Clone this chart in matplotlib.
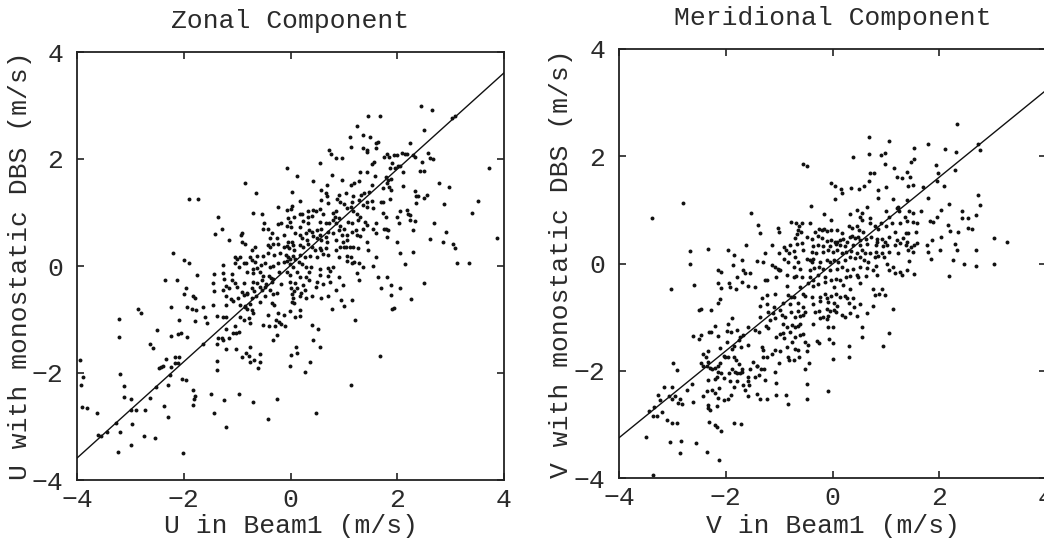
import numpy as np
import matplotlib
matplotlib.use('Agg')
import matplotlib.pyplot as plt

# ---- beam1 vs monostatic DBS winds (m/s), pairs of (beam1, dbs) ----
zonal_pts = [
    (0.13, 1.69), (0.43, 1.59), (0.77, 1.71), (0.96, 1.61), (1.13, 1.51), (1.19, 1.55), (1.29, 1.58), (1.43, 1.76),
    (1.58, 1.68), (1.30, 1.76), (1.52, 1.51), (0.69, 1.51), (-0.85, 1.55), (-0.65, 1.37), (0.03, 1.39), (0.58, 1.42),
    (0.66, 1.36), (0.68, 1.30), (0.90, 1.33), (0.88, 1.26), (1.04, 1.36), (1.18, 1.30), (1.33, 1.33), (1.38, 1.37),
    (1.48, 1.39), (0.58, 1.23), (0.71, 1.17), (0.18, 1.22), (0.93, 1.20), (1.00, 1.16), (1.15, 1.20), (1.29, 1.23),
    (1.44, 1.20), (1.52, 1.22), (-0.23, 1.11), (-0.07, 1.05), (0.02, 1.12), (0.00, 1.06), (-0.70, 1.00), (-0.54, 0.98),
    (0.18, 0.97), (0.22, 0.98), (0.33, 1.02), (0.43, 1.05), (0.48, 1.02), (0.55, 1.06), (0.61, 0.98), (0.32, 0.92),
    (0.40, 0.93), (0.80, 1.00), (0.86, 1.02), (0.83, 0.92), (0.90, 0.89), (1.05, 1.08), (1.13, 1.11), (1.18, 1.02),
    (1.24, 0.98), (1.36, 1.14), (1.43, 1.11), (1.54, 1.08), (1.30, 0.92), (-0.04, 0.89), (0.07, 0.92), (-0.49, 0.80),
    (-0.23, 0.79), (-0.17, 0.81), (-0.01, 0.83), (0.23, 0.85), (0.32, 0.80), (0.18, 0.72), (0.55, 0.83), (0.66, 0.80),
    (0.73, 0.81), (0.79, 0.86), (0.86, 0.80), (0.93, 0.75), (1.08, 0.83), (1.16, 0.80), (1.27, 0.86), (1.40, 0.83),
    (1.44, 0.77), (1.60, 0.80), (-1.29, 0.69), (-0.51, 0.69), (-0.42, 0.70), (-0.07, 0.74), (0.00, 0.72), (0.35, 0.67),
    (0.40, 0.64), (0.49, 0.67), (0.58, 0.70), (0.71, 0.64), (0.80, 0.61), (0.90, 0.67), (1.00, 0.69), (1.15, 0.64),
    (1.23, 0.67), (1.36, 0.70), (1.54, 0.69), (1.61, 0.62), (-0.93, 0.58), (-0.90, 0.61), (-0.35, 0.61), (-0.13, 0.58),
    (0.08, 0.61), (0.18, 0.58), (0.29, 0.62), (0.43, 0.56), (0.55, 0.58), (0.66, 0.55), (0.96, 0.58), (1.05, 0.58),
    (1.24, 0.58), (1.30, 0.56), (-1.16, 0.49), (-0.90, 0.44), (-0.85, 0.41), (-0.38, 0.52), (-0.26, 0.52), (-0.04, 0.45),
    (0.02, 0.45), (0.21, 0.52), (0.30, 0.49), (0.49, 0.52), (0.58, 0.49), (0.68, 0.45), (0.86, 0.49), (0.98, 0.45),
    (1.06, 0.49), (1.43, 0.45), (-0.66, 0.35), (-0.73, 0.29), (-0.42, 0.39), (-0.38, 0.36), (-0.32, 0.41), (-0.23, 0.42),
    (-0.13, 0.35), (-0.07, 0.37), (-0.02, 0.33), (0.04, 0.39), (0.07, 0.30), (0.18, 0.39), (0.24, 0.36), (0.32, 0.42),
    (0.40, 0.36), (0.46, 0.30), (0.55, 0.33), (0.58, 0.29), (0.66, 0.33), (0.86, 0.30), (0.93, 0.36), (1.00, 0.35),
    (1.04, 0.35), (1.11, 0.35), (1.18, 0.35), (1.27, 0.33), (1.46, 0.30), (-1.04, 0.16), (-1.00, 0.14), (-0.95, 0.16),
    (-0.76, 0.17), (-0.62, 0.19), (-0.52, 0.19), (-0.42, 0.25), (-0.31, 0.21), (-0.20, 0.24), (-0.08, 0.21), (-0.04, 0.16),
    (-0.01, 0.14), (0.05, 0.19), (0.08, 0.14), (0.18, 0.21), (0.27, 0.16), (0.37, 0.19), (0.49, 0.17), (0.61, 0.22),
    (0.71, 0.21), (0.90, 0.16), (1.05, 0.19), (1.13, 0.16), (1.61, 0.16), (-1.26, 0.02), (-1.04, 0.06), (-0.96, -0.01),
    (-0.88, 0.05), (-0.83, 0.06), (-0.73, 0.11), (-0.66, 0.08), (-0.56, 0.02), (-0.48, 0.05), (-0.38, -0.02), (-0.32, 0.00),
    (-0.23, 0.05), (-0.13, 0.08), (-0.07, 0.10), (-0.01, 0.04), (0.04, -0.01), (0.15, 0.08), (0.21, 0.04), (0.29, -0.01),
    (0.38, -0.02), (0.55, -0.06), (0.71, -0.04), (0.80, -0.01), (1.05, 0.10), (1.15, 0.05), (1.19, 0.08), (1.29, 0.06),
    (1.35, -0.01), (1.54, 0.00), (-0.71, -0.06), (-0.63, -0.04), (-1.26, -0.14), (-1.10, -0.15), (-0.82, -0.11), (-0.70, -0.14),
    (-0.57, -0.11), (-0.51, -0.19), (-0.40, -0.19), (-0.37, -0.23), (-0.32, -0.25), (-0.21, -0.12), (-0.07, -0.11), (-0.01, -0.17),
    (0.12, -0.12), (0.18, -0.21), (0.29, -0.21), (0.35, -0.11), (0.55, -0.17), (0.71, -0.19), (0.74, -0.09), (0.91, -0.20),
    (1.24, -0.14), (1.29, -0.26), (1.64, -0.20), (-1.25, -0.25), (-1.10, -0.26), (-1.04, -0.32), (-0.88, -0.32), (-0.71, -0.29),
    (-0.63, -0.32), (-0.54, -0.26), (-0.45, -0.34), (-0.35, -0.29), (-0.17, -0.34), (-0.01, -0.29), (0.08, -0.31), (0.24, -0.36),
    (0.35, -0.26), (0.49, -0.29), (0.60, -0.34), (0.74, -0.29), (0.98, -0.36), (-1.20, -0.37), (-1.00, -0.40), (-1.26, -0.45),
    (-1.15, -0.42), (-0.91, -0.48), (-0.82, -0.50), (-0.73, -0.42), (-0.68, -0.46), (-0.58, -0.39), (-0.54, -0.44), (-0.48, -0.40),
    (-0.38, -0.45), (-0.32, -0.52), (-0.25, -0.50), (0.00, -0.42), (0.07, -0.46), (0.13, -0.42), (0.19, -0.50), (0.02, -0.52),
    (0.27, -0.44), (0.48, -0.39), (0.86, -0.45), (-1.20, -0.57), (-1.12, -0.62), (-0.98, -0.60), (-0.88, -0.54), (-0.81, -0.52),
    (-0.73, -0.59), (-0.65, -0.57), (-0.48, -0.56), (0.04, -0.60), (0.18, -0.56), (0.29, -0.60), (0.40, -0.57), (0.58, -0.59),
    (0.71, -0.57), (0.94, -0.64), (1.15, -0.64), (-1.21, -0.73), (-1.07, -0.65), (-0.95, -0.73), (-0.85, -0.75), (-0.76, -0.71),
    (-0.57, -0.67), (-0.35, -0.70), (-0.31, -0.73), (0.02, -0.67), (0.07, -0.69), (-0.85, -0.77), (-0.81, -0.81), (-0.73, -0.82),
    (-0.70, -0.88), (-0.42, -0.92), (-0.23, -0.88), (-0.13, -0.92), (-0.01, -0.85), (0.08, -0.95), (0.18, -0.93), (0.18, -0.83),
    (0.77, -0.81), (1.00, -0.75), (-1.27, -0.95), (-1.21, -0.95), (-0.95, -0.95), (-0.88, -1.00), (-0.77, -0.98), (-0.75, -1.06),
    (-0.27, -1.00), (-0.21, -1.04), (-0.51, -1.10), (-0.40, -1.13), (-0.29, -1.13), (-0.17, -1.08), (-0.10, -1.13), (1.21, -1.01),
    (-1.20, -1.17), (-1.04, -1.13), (0.40, -1.10), (0.52, -1.18),
    # upper left
    (-1.91, 1.25), (-1.74, 1.26), (-1.35, 0.92), (-1.42, 0.59), (-2.20, 0.25), (-1.99, 0.12), (-1.91, 0.05),
    # upper right
    (2.44, 3.00), (2.66, 2.92), (1.46, 2.81), (1.68, 2.81), (3.02, 2.77), (3.09, 2.80), (1.25, 2.62), (2.51, 2.54),
    (1.35, 2.44), (1.49, 2.41), (1.11, 2.41), (1.64, 2.31), (1.61, 2.29), (2.24, 2.30), (1.13, 2.23), (1.36, 2.21),
    (1.44, 2.17), (1.43, 2.14), (1.60, 2.20), (0.73, 2.16), (0.75, 2.09), (2.57, 2.12), (1.81, 2.10), (2.08, 2.11),
    (2.14, 2.10), (2.19, 2.09), (2.29, 2.07), (2.33, 2.04), (1.76, 2.03), (1.85, 2.04), (1.94, 2.07), (1.99, 2.07),
    (0.86, 2.02), (0.97, 2.02), (2.62, 2.02), (2.67, 2.00), (-0.06, 1.83), (0.55, 1.93), (1.56, 1.94), (1.53, 1.91),
    (1.90, 1.93), (1.86, 1.84), (1.96, 1.84), (2.02, 1.86), (2.06, 1.87), (2.46, 1.94), (3.72, 1.83), (2.51, 1.78),
    (2.43, 1.78), (2.11, 1.75), (1.79, 1.67), (1.83, 1.61), (1.89, 1.62), (1.81, 1.55), (1.85, 1.48), (2.11, 1.50),
    (2.79, 1.55), (2.97, 1.48), (1.73, 1.45), (1.89, 1.42), (2.33, 1.41), (2.36, 1.30), (2.39, 1.31), (2.50, 1.28),
    (2.55, 1.33), (1.70, 1.20), (1.74, 1.20), (1.86, 1.26), (2.35, 1.18), (2.88, 1.15), (3.52, 1.21), (1.74, 1.00),
    (1.78, 0.91), (2.05, 1.03), (2.18, 1.05), (2.21, 0.98), (2.24, 0.95), (2.23, 0.86), (2.00, 0.91), (2.03, 0.81),
    (2.33, 0.84), (2.68, 0.80), (3.40, 1.00), (1.76, 0.70), (1.79, 0.70), (1.82, 0.67), (2.29, 0.67), (2.92, 0.63),
    (1.81, 0.55), (2.61, 0.50), (2.86, 0.44), (3.05, 0.41), (3.09, 0.33), (3.87, 0.52), (2.00, 0.45), (2.06, 0.24),
    (2.29, 0.27), (3.12, 0.06), (3.35, 0.05), (2.14, 0.04),
    # lower left
    (-1.76, -0.17), (-2.35, -0.26), (-2.12, -0.27), (-1.43, -0.15), (-1.96, -0.42), (-1.99, -0.53), (-1.82, -0.57), (-1.78, -0.59),
    (-1.45, -0.32), (-1.43, -0.46), (-1.94, -0.76), (-1.85, -0.81), (-1.77, -0.82), (-2.23, -0.77), (-1.64, -0.76), (-2.08, -1.01),
    (-1.79, -1.02), (-1.60, -0.96), (-1.57, -1.07), (-1.46, -0.72), (-1.38, -0.93), (-2.85, -0.81), (-2.81, -0.87), (-3.22, -0.99),
    (-3.22, -1.33), (-2.51, -1.20), (-2.64, -1.45), (-2.57, -1.54), (-2.23, -1.31), (-2.11, -1.27), (-2.06, -1.25), (-1.93, -1.32),
    (-1.63, -1.46), (-1.38, -1.45), (-1.35, -1.35), (-1.29, -1.34), (-1.26, -1.38), (-1.16, -1.34), (-1.08, -1.25), (-1.02, -1.25),
    (-0.96, -1.23), (-1.21, -1.56), (-1.02, -1.56), (-0.90, -1.71), (-0.83, -1.63), (-0.76, -1.52), (-0.68, -1.76), (-0.58, -1.65),
    (-0.57, -1.79), (-0.61, -1.91), (-0.75, -1.79), (-0.78, -1.68), (-0.32, -1.38), (-0.26, -1.29), (-1.38, -1.78), (-1.38, -1.94),
    (-2.43, -1.89), (-2.46, -1.91), (-2.39, -1.87), (-2.33, -1.73), (-2.16, -1.71), (-2.09, -1.71), (-2.10, -1.81), (-2.16, -1.81),
    (-2.23, -1.89), (-2.26, -2.04), (-3.94, -1.76), (-3.89, -2.07), (-3.93, -2.22), (-3.90, -2.63), (-3.82, -2.65), (-3.19, -2.01),
    (-3.12, -2.24), (-3.12, -2.44), (-2.99, -2.49), (-2.98, -2.70), (-2.89, -2.70), (-2.72, -2.70), (-2.64, -2.47), (-2.52, -2.26),
    (-3.62, -2.74), (-3.27, -2.94), (-3.19, -3.10), (-3.60, -3.16), (-3.55, -3.17), (-3.44, -3.10), (-3.24, -3.47), (-2.99, -3.35),
    (-2.97, -2.95), (-2.74, -3.17), (-2.54, -3.22), (-2.37, -2.62), (-2.29, -2.83), (-2.29, -2.22), (-2.04, -2.11), (-1.96, -2.14),
    (-2.01, -3.50), (-1.82, -2.32), (-1.79, -2.43), (-1.81, -2.49), (-1.83, -2.59), (-1.49, -2.40), (-1.43, -2.74), (-1.25, -2.50),
    (-1.20, -3.00), (-0.96, -2.39), (-0.71, -2.54), (-0.42, -2.86), (-0.26, -2.49),
    # lower right
    (2.51, -0.31), (2.26, -0.62), (1.91, -0.80), (1.94, -0.78), (1.88, -0.55), (2.05, -0.42), (1.88, -0.36), (1.69, -0.41),
    (1.80, -0.20), (0.43, -1.38), (0.56, -1.51), (0.10, -1.51), (0.13, -1.63), (0.00, -1.66), (-0.01, -1.86), (0.37, -1.79),
    (0.27, -1.98), (1.68, -1.68), (1.13, -2.22), (0.48, -2.75),
]

merid_pts = [
    (-0.02, 1.51), (0.05, 1.44), (0.15, 1.38), (0.17, 1.32), (0.34, 1.40), (0.50, 1.38), (0.59, 1.45), (0.69, 1.53),
    (0.86, 1.37), (1.00, 1.42), (1.42, 1.45), (1.51, 1.46), (0.05, 1.20), (-0.40, 1.08), (0.86, 1.23), (1.14, 1.20),
    (1.39, 1.18), (0.33, 0.92), (0.45, 1.00), (0.55, 0.95), (0.64, 1.05), (0.51, 0.87), (0.56, 0.81), (0.70, 0.84),
    (-0.16, 0.92), (1.00, 0.97), (1.06, 0.87), (1.20, 1.03), (1.25, 0.97), (1.23, 1.06), (1.44, 0.97), (1.50, 0.95),
    (1.36, 0.87), (1.40, 0.80), (1.50, 0.78), (-0.02, 0.81), (-0.78, 0.78), (-0.68, 0.76), (-0.58, 0.75), (-0.42, 0.75),
    (-1.03, 0.67), (-1.01, 0.59), (-0.62, 0.69), (-0.64, 0.63), (-0.59, 0.58), (-0.67, 0.55), (-0.33, 0.59), (-0.25, 0.64),
    (-0.20, 0.63), (-0.16, 0.64), (-0.11, 0.61), (-0.02, 0.63), (0.09, 0.63), (0.17, 0.56), (0.30, 0.69), (0.36, 0.66),
    (0.45, 0.69), (0.50, 0.63), (0.58, 0.59), (0.70, 0.75), (0.80, 0.69), (0.86, 0.64), (0.90, 0.75), (1.01, 0.69),
    (1.11, 0.75), (1.17, 0.59), (1.26, 0.75), (1.38, 0.56), (1.42, 0.56), (1.56, 0.59), (1.58, 0.75), (-1.36, 0.56),
    (-0.70, 0.47), (-0.48, 0.50), (-0.39, 0.45), (-0.27, 0.51), (-0.20, 0.47), (-0.11, 0.42), (-0.02, 0.44), (0.05, 0.41),
    (0.09, 0.41), (0.14, 0.43), (0.19, 0.45), (0.27, 0.41), (0.33, 0.49), (0.36, 0.51), (0.42, 0.47), (0.47, 0.50),
    (0.51, 0.44), (0.63, 0.45), (0.73, 0.50), (0.83, 0.45), (0.84, 0.41), (0.92, 0.45), (0.98, 0.41), (1.06, 0.49),
    (1.20, 0.44), (1.33, 0.47), (1.39, 0.41), (-1.14, 0.35), (-0.91, 0.30), (-0.80, 0.35), (-0.66, 0.36), (-0.58, 0.38),
    (-0.36, 0.33), (-0.27, 0.35), (-0.17, 0.33), (-0.05, 0.33), (0.07, 0.36), (0.14, 0.35), (0.23, 0.33), (0.38, 0.35),
    (0.51, 0.35), (0.64, 0.36), (0.81, 0.35), (0.95, 0.33), (1.03, 0.35), (1.17, 0.35), (1.26, 0.39), (1.38, 0.35),
    (1.48, 0.31), (1.53, 0.35), (1.59, 0.38), (-1.26, 0.19), (-1.01, 0.20), (-0.87, 0.25), (-0.81, 0.20), (-0.73, 0.24),
    (-0.55, 0.25), (-0.39, 0.22), (-0.30, 0.20), (-0.17, 0.22), (-0.08, 0.25), (0.00, 0.22), (0.09, 0.25), (0.17, 0.20),
    (0.25, 0.22), (0.34, 0.24), (0.45, 0.20), (0.55, 0.25), (0.61, 0.19), (0.70, 0.20), (0.81, 0.22), (0.92, 0.20),
    (1.06, 0.22), (1.23, 0.19), (1.42, 0.25), (1.51, 0.22), (-1.14, -0.03), (-1.08, -0.07), (-1.01, -0.12), (-0.91, 0.08),
    (-0.83, 0.03), (-0.70, 0.12), (-0.64, 0.03), (-0.48, 0.08), (-0.43, 0.07), (-0.39, 0.03), (-0.36, 0.08), (-0.23, 0.02),
    (-0.11, 0.07), (-0.05, 0.03), (0.03, 0.07), (0.11, 0.03), (0.23, 0.07), (0.33, 0.13), (0.42, 0.10), (0.51, 0.12),
    (0.59, 0.07), (0.67, 0.03), (0.80, 0.12), (0.86, 0.14), (0.96, 0.13), (1.03, 0.00), (1.14, -0.06), (1.44, 0.05),
    (-1.31, 0.02), (-1.03, -0.11), (-0.98, -0.13), (-0.73, -0.07), (-0.61, -0.11), (-0.42, -0.13), (-0.35, -0.09), (-0.25, -0.07),
    (-0.17, -0.11), (-0.05, -0.12), (0.08, -0.11), (0.17, -0.07), (0.28, -0.12), (0.39, -0.11), (0.51, -0.07), (0.64, -0.09),
    (0.76, -0.12), (0.81, -0.05), (1.05, -0.12), (1.26, -0.15), (1.39, -0.12), (-1.26, -0.31), (-1.22, -0.30), (-1.06, -0.26),
    (-0.86, -0.21), (-0.73, -0.26), (-0.68, -0.23), (-0.58, -0.25), (-0.42, -0.25), (-0.36, -0.31), (-0.27, -0.21), (-0.14, -0.25),
    (-0.03, -0.30), (0.07, -0.28), (0.14, -0.31), (0.25, -0.25), (0.33, -0.23), (0.45, -0.21), (0.48, -0.26), (0.63, -0.23),
    (0.83, -0.21), (1.17, -0.18), (1.30, -0.21), (1.53, -0.20), (-0.86, -0.42), (-0.61, -0.44), (-0.45, -0.37), (-0.36, -0.42),
    (-0.27, -0.38), (-0.14, -0.34), (0.02, -0.43), (0.19, -0.40), (0.33, -0.48), (0.51, -0.37), (0.76, -0.48), (0.80, -0.59),
    (0.92, -0.48), (0.98, -0.59), (0.88, -0.57), (-1.33, -0.65), (-1.22, -0.59), (-1.08, -0.56), (-0.83, -0.59), (-0.78, -0.62),
    (-0.73, -0.63), (-0.55, -0.56), (-0.52, -0.61), (-0.39, -0.63), (-0.23, -0.62), (-0.14, -0.57), (-0.11, -0.65), (-0.02, -0.61),
    (0.07, -0.56), (0.14, -0.63), (0.23, -0.61), (0.28, -0.65), (0.38, -0.65), (-1.36, -0.79), (-1.23, -0.76), (-1.10, -0.81),
    (-0.92, -0.74), (-0.80, -0.76), (-0.64, -0.73), (-0.56, -0.81), (-0.36, -0.76), (-0.23, -0.69), (-0.08, -0.71), (0.03, -0.74),
    (0.08, -0.79), (0.30, -0.73), (0.41, -0.81), (0.51, -0.76), (-1.20, -0.90), (-1.11, -0.93), (-0.98, -0.87), (-0.95, -0.96),
    (-0.78, -0.90), (-0.64, -0.88), (-0.55, -0.96), (-0.52, -0.90), (-0.33, -0.90), (-0.25, -0.88), (-0.11, -0.84), (-0.05, -0.88),
    (0.02, -0.86), (0.07, -0.90), (0.17, -0.96), (0.23, -0.99), (0.32, -0.92), (0.45, -0.98), (0.65, -0.93), (0.76, -0.79),
    (1.14, -0.84), (-1.36, -1.00), (-1.17, -1.05), (-1.08, -1.02), (-0.89, -0.99), (-0.70, -1.00), (-0.61, -0.98), (-0.17, -1.00),
    (-0.11, -1.04), (-0.08, -0.98), (-1.25, -1.17), (-1.20, -1.21), (-0.92, -1.13), (-0.86, -1.18), (-0.76, -1.15), (-0.70, -1.18),
    (-0.64, -1.17), (-0.60, -1.13), (-0.36, -1.13), (-0.23, -1.02), (-0.08, -1.18), (0.00, -1.18), (-0.98, -1.32), (-0.92, -1.30),
    (-0.80, -1.27), (-0.61, -1.33), (-0.55, -1.32), (-1.06, -1.37), (-0.91, -1.38), (-0.70, -1.37), (0.56, -1.19), (0.56, -1.37),
    (1.06, -1.29), (-0.06, -1.41),
    # upper left
    (-3.39, 0.84), (-2.81, 1.12), (-2.67, 0.24), (-2.67, -0.01), (-2.34, 0.27), (-1.96, 0.26), (-1.84, 0.16), (-1.70, 0.07),
    (-1.62, 0.35), (-1.52, 0.94), (-1.39, 0.72), (-1.42, 0.05), (-0.56, 1.86), (-0.48, 1.82),
    # upper right
    (2.33, 2.61), (0.69, 2.35), (1.05, 2.29), (1.53, 2.15), (1.79, 2.22), (2.10, 2.13), (2.31, 2.07), (2.72, 2.23),
    (2.76, 2.12), (0.38, 1.99), (0.68, 2.04), (0.90, 2.02), (0.98, 2.06), (0.99, 1.86), (1.15, 1.78), (1.47, 1.89),
    (1.52, 1.94), (1.93, 1.83), (2.29, 1.74), (0.71, 1.69), (0.78, 1.68), (1.20, 1.62), (1.30, 1.60), (1.40, 1.71),
    (1.46, 1.62), (1.98, 1.69), (1.95, 1.53), (2.08, 1.45), (1.69, 1.43), (1.79, 1.23), (2.19, 1.11), (2.73, 1.28),
    (2.77, 1.10), (2.03, 1.00), (2.16, 0.72), (1.88, 0.78), (1.83, 0.79), (1.95, 0.87), (1.65, 0.98), (2.04, 0.49),
    (2.20, 0.61), (2.36, 0.59), (2.42, 0.97), (2.43, 0.84), (2.53, 0.84), (2.54, 0.66), (2.68, 0.91), (2.61, 0.64),
    (3.03, 0.48), (3.26, 0.41), (2.68, 0.25), (2.33, 0.26), (2.30, 0.36), (2.01, 0.26), (1.87, 0.44), (1.77, 0.35),
    (1.79, 0.21), (1.85, 0.08), (2.26, 0.07), (2.47, 0.00), (3.03, -0.01),
    # lower right
    (2.68, -0.05), (2.18, -0.23), (0.95, -1.53), (0.30, -1.53), (0.30, -1.75), (0.00, -1.48), (0.00, -1.78), (-0.08, -2.38),
    (-0.25, -1.49), (-0.29, -1.45),
    # lower left
    (-2.59, -0.40), (-3.02, -0.48), (-2.14, -0.12), (-2.08, -0.16), (-2.15, -0.36), (-2.09, -0.46), (-1.94, -0.37), (-1.92, -0.44),
    (-1.86, -0.03), (-1.78, -0.25), (-1.70, -0.34), (-1.67, -0.12), (-1.64, -0.18), (-1.54, -0.17), (-1.81, -0.48), (-1.58, -0.42),
    (-1.45, -0.43), (-2.11, -0.67), (-2.14, -0.73), (-2.50, -0.86), (-2.46, -0.84), (-2.28, -0.86), (-2.62, -1.35), (-2.46, -1.33),
    (-2.50, -1.40), (-2.31, -1.28), (-2.28, -1.27), (-2.21, -1.17), (-2.15, -1.35), (-1.98, -1.25), (-1.95, -1.12), (-1.98, -1.46),
    (-1.89, -1.02), (-1.90, -1.27), (-1.79, -1.24), (-1.73, -1.37), (-1.76, -1.43), (-1.67, -1.33), (-1.58, -1.18), (-1.45, -1.24),
    (-1.37, -1.27), (-1.71, -1.55), (-1.59, -1.52), (-1.84, -1.54), (-1.89, -1.60), (-2.11, -1.58), (-2.34, -1.64), (-2.37, -1.74),
    (-2.42, -1.69), (-2.46, -1.86), (-2.43, -1.92), (-2.36, -1.91), (-2.33, -1.83), (-2.29, -1.94), (-2.26, -1.96), (-2.21, -1.94),
    (-2.17, -2.12), (-2.14, -1.92), (-2.11, -1.86), (-2.04, -1.73), (-2.01, -1.75), (-1.95, -1.74), (-1.84, -1.75), (-1.81, -1.80),
    (-1.88, -1.96), (-1.83, -2.02), (-1.94, -2.05), (-1.70, -2.02), (-1.58, -2.11), (-1.45, -2.12), (-1.38, -2.07), (-1.41, -1.92),
    (-1.59, -2.19), (-1.56, -2.27), (-1.67, -2.27), (-1.73, -2.04), (-1.78, -2.19), (-1.84, -2.31), (-1.90, -2.45), (-1.96, -2.52),
    (-2.04, -2.55), (-2.14, -2.50), (-2.20, -2.42), (-2.25, -2.36), (-2.36, -2.37), (-2.43, -2.48), (-2.34, -2.64), (-2.33, -2.70),
    (-2.29, -2.73), (-2.17, -2.66), (-2.21, -2.16), (-2.33, -2.17), (-2.13, -2.33), (-2.20, -3.01), (-2.17, -3.04), (-2.09, -3.12),
    (-2.31, -2.95), (-1.84, -2.98), (-1.72, -2.99), (-2.98, -1.85), (-2.91, -1.99), (-3.01, -2.30), (-3.15, -2.30), (-3.27, -2.45),
    (-3.35, -2.67), (-3.44, -2.75), (-3.37, -2.85), (-3.29, -2.85), (-3.19, -2.76), (-3.23, -2.55), (-3.07, -2.48), (-3.01, -2.53),
    (-2.95, -2.48), (-2.86, -2.53), (-2.82, -2.62), (-2.90, -2.60), (-2.73, -2.36), (-2.64, -2.24), (-2.62, -2.58), (-3.11, -2.91),
    (-3.00, -2.98), (-3.50, -3.23), (-3.04, -3.32), (-2.84, -3.31), (-2.86, -3.53), (-2.56, -3.34), (-2.36, -3.51), (-2.13, -3.67),
    (-3.37, -3.95), (-2.92, -2.97), (-1.58, -2.48), (-1.42, -2.43), (-1.64, -2.36), (-1.92, -2.19), (-2.04, -2.14), (-2.08, -2.05),
    (-2.14, -2.02), (-1.49, -1.83), (-1.55, -1.97), (-1.69, -1.97), (-1.76, -1.88), (-1.78, -2.05), (-1.42, -1.91), (-1.35, -2.52),
    (-1.22, -2.52), (-1.06, -2.45), (-0.88, -2.45), (-0.84, -2.62), (-0.48, -2.52), (-1.06, -2.22), (-1.26, -2.17), (-1.33, -1.55),
    (-1.30, -1.61), (-1.30, -1.74), (-1.22, -1.74), (-1.08, -1.61), (-1.14, -1.68), (-0.98, -1.64), (-0.86, -1.56), (-0.83, -1.74),
    (-0.81, -1.80), (-0.76, -1.46), (-0.70, -1.60), (-0.65, -1.61), (-0.51, -1.46), (-0.45, -1.52), (-0.48, -1.64), (-0.44, -1.86),
    (-0.51, -1.96), (-0.48, -2.25), (-0.63, -1.74), (-0.73, -1.80), (-1.01, -1.86), (-1.08, -2.02), (-1.28, -1.97), (-1.34, -1.97),
]

# least-squares lines (slope, intercept)
zonal_fit = (0.90, 0.01)
merid_fit = (0.81, -0.01)

ticks = [-4, -2, 0, 2, 4]

plt.rcParams.update({
    'font.family': 'Liberation Mono',
    'font.size': 19,
    'text.color': '#2a2a2a',
    'axes.labelcolor': '#2a2a2a',
    'axes.edgecolor': '#222222',
    'axes.linewidth': 1.3,
    'xtick.color': '#222222', 'ytick.color': '#222222',
    'xtick.labelcolor': '#2a2a2a', 'ytick.labelcolor': '#2a2a2a',
    'xtick.direction': 'in', 'ytick.direction': 'in',
    'xtick.top': True, 'ytick.right': True,
    'xtick.major.size': 5, 'ytick.major.size': 5,
    'xtick.major.width': 1.2, 'ytick.major.width': 1.2,
    'xtick.major.pad': 6, 'ytick.major.pad': 10,
})

fig = plt.figure(figsize=(10.44, 5.42), dpi=100)
ax1 = fig.add_axes([77 / 1044, 1 - 480 / 542, 427 / 1044, 428 / 542])
ax2 = fig.add_axes([619 / 1044, 1 - 478 / 542, 427 / 1044, 429 / 542])

panels = [
    (ax1, zonal_pts, zonal_fit, 'Zonal Component', 'U in Beam1 (m/s)', 'U with monostatic DBS (m/s)'),
    (ax2, merid_pts, merid_fit, 'Meridional Component', 'V in Beam1 (m/s)', 'V with monostatic DBS (m/s)'),
]

for ax, pts, fit, title, xlabel, ylabel in panels:
    pts = np.array(pts)
    ax.scatter(pts[:, 0], pts[:, 1], s=8, color='#111111', linewidths=0, zorder=2)
    xl = np.array([-4, 4])
    ax.plot(xl, fit[0] * xl + fit[1], color='#111111', lw=1.0, zorder=3)
    ax.set_xlim(-4, 4)
    ax.set_ylim(-4, 4)
    ax.set_xticks(ticks)
    ax.set_yticks(ticks)
    ax.set_title(title, pad=17, fontsize=19)
    ax.set_xlabel(xlabel)
    ax.set_ylabel(ylabel)

ax1.yaxis.set_label_coords(-0.105, 0.5)
ax2.yaxis.set_label_coords(-0.107, 0.5)
ax1.xaxis.set_label_coords(0.5, -0.080)
ax2.xaxis.set_label_coords(0.5, -0.084)

fig.savefig('out.png', dpi=100)
